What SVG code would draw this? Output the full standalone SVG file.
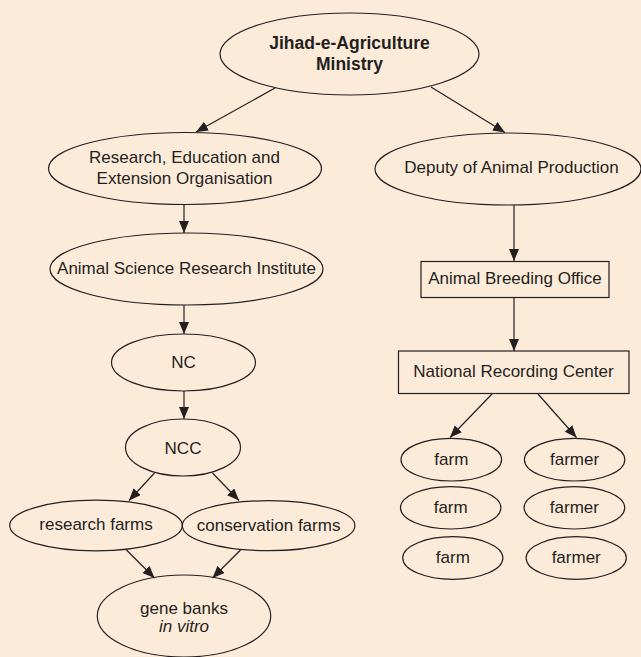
<svg xmlns="http://www.w3.org/2000/svg" width="641" height="657" viewBox="0 0 641 657">
<style>
.n{fill:none;stroke:#231f20;stroke-width:1.2}
.t{font-family:"Liberation Sans",Arial,sans-serif;font-size:17px;fill:#231f20;text-anchor:middle}
.b{font-weight:bold;font-size:17.5px}
.c{stroke:#231f20;stroke-width:1.2;fill:none;marker-end:url(#ah)}
</style>
<defs>
<marker id="ah" markerUnits="userSpaceOnUse" markerWidth="13" markerHeight="11" refX="12" refY="5" orient="auto">
<path d="M0,0 L12,5 L0,10 z" fill="#231f20"/>
</marker>
</defs>
<rect x="0" y="0" width="641" height="657" fill="#fdebda"/>
<g id="connectors">
<line class="c" x1="275" y1="88" x2="196" y2="132"/>
<line class="c" x1="431" y1="87" x2="505" y2="132.5"/>
<line class="c" x1="184" y1="204" x2="184" y2="233"/>
<line class="c" x1="514" y1="205" x2="514" y2="261"/>
<line class="c" x1="184" y1="305" x2="184" y2="334"/>
<line class="c" x1="514" y1="297" x2="514" y2="351"/>
<line class="c" x1="184" y1="391" x2="184" y2="419"/>
<line class="c" x1="154.5" y1="473" x2="129" y2="500.5"/>
<line class="c" x1="212.5" y1="473" x2="239" y2="500.5"/>
<line class="c" x1="126.5" y1="550" x2="154.5" y2="578"/>
<line class="c" x1="240.5" y1="550" x2="212.5" y2="578"/>
<line class="c" x1="492" y1="394" x2="450" y2="437.5"/>
<line class="c" x1="538" y1="394" x2="576.5" y2="437.5"/>
</g>
<g id="ministry"><ellipse class="n" cx="349.5" cy="54" rx="129.5" ry="41"/><text class="t b" x="349.5" y="49">Jihad-e-Agriculture</text><text class="t b" x="349.5" y="70">Ministry</text></g>
<g id="reeo"><ellipse class="n" cx="185" cy="168.5" rx="136.5" ry="36"/><text class="t" x="184.5" y="163">Research, Education and</text><text class="t" x="184.5" y="183.5">Extension Organisation</text></g>
<g id="deputy"><ellipse class="n" cx="508" cy="169" rx="133" ry="36"/><text class="t" x="511.5" y="172.5">Deputy of Animal Production</text></g>
<g id="asri"><ellipse class="n" cx="186.5" cy="269" rx="136.5" ry="36"/><text class="t" x="186.5" y="273.5">Animal Science Research Institute</text></g>
<g id="abo"><rect class="n" x="421" y="261.5" width="188" height="36"/><text class="t" x="515" y="283.5">Animal Breeding Office</text></g>
<g id="nc"><ellipse class="n" cx="183.5" cy="362.5" rx="72" ry="28.5"/><text class="t" x="183.5" y="367.5">NC</text></g>
<g id="nrc"><rect class="n" x="398.5" y="351" width="230.5" height="42.5"/><text class="t" x="513.5" y="377">National Recording Center</text></g>
<g id="ncc"><ellipse class="n" cx="183" cy="447.5" rx="57.5" ry="28.5"/><text class="t" x="183" y="453.5">NCC</text></g>
<g id="research-farms"><ellipse class="n" cx="96" cy="525.5" rx="86.3" ry="25.3"/><text class="t" x="96" y="530">research farms</text></g>
<g id="conservation-farms"><ellipse class="n" cx="268.6" cy="525.7" rx="86.3" ry="25"/><text class="t" x="268.6" y="530.7">conservation farms</text></g>
<g id="gene-banks"><ellipse class="n" cx="184" cy="616" rx="86.7" ry="41"/><text class="t" x="184" y="614">gene banks</text><text class="t" x="184" y="631.7" font-style="italic">in vitro</text></g>
<g id="farm1"><ellipse class="n" cx="451.3" cy="459.7" rx="50.3" ry="21.3"/><text class="t" x="451.3" y="465">farm</text></g>
<g id="farmer1"><ellipse class="n" cx="574.6" cy="459.7" rx="50.2" ry="21.3"/><text class="t" x="574.6" y="465">farmer</text></g>
<g id="farm2"><ellipse class="n" cx="450.7" cy="507.8" rx="50.2" ry="21.2"/><text class="t" x="450.7" y="513.3">farm</text></g>
<g id="farmer2"><ellipse class="n" cx="574.4" cy="507.8" rx="50.3" ry="21.2"/><text class="t" x="574.4" y="513.3">farmer</text></g>
<g id="farm3"><ellipse class="n" cx="452.8" cy="558" rx="50.1" ry="21.3"/><text class="t" x="452.8" y="563.3">farm</text></g>
<g id="farmer3"><ellipse class="n" cx="576.2" cy="558" rx="50.1" ry="21.3"/><text class="t" x="576.2" y="563.3">farmer</text></g>
</svg>
